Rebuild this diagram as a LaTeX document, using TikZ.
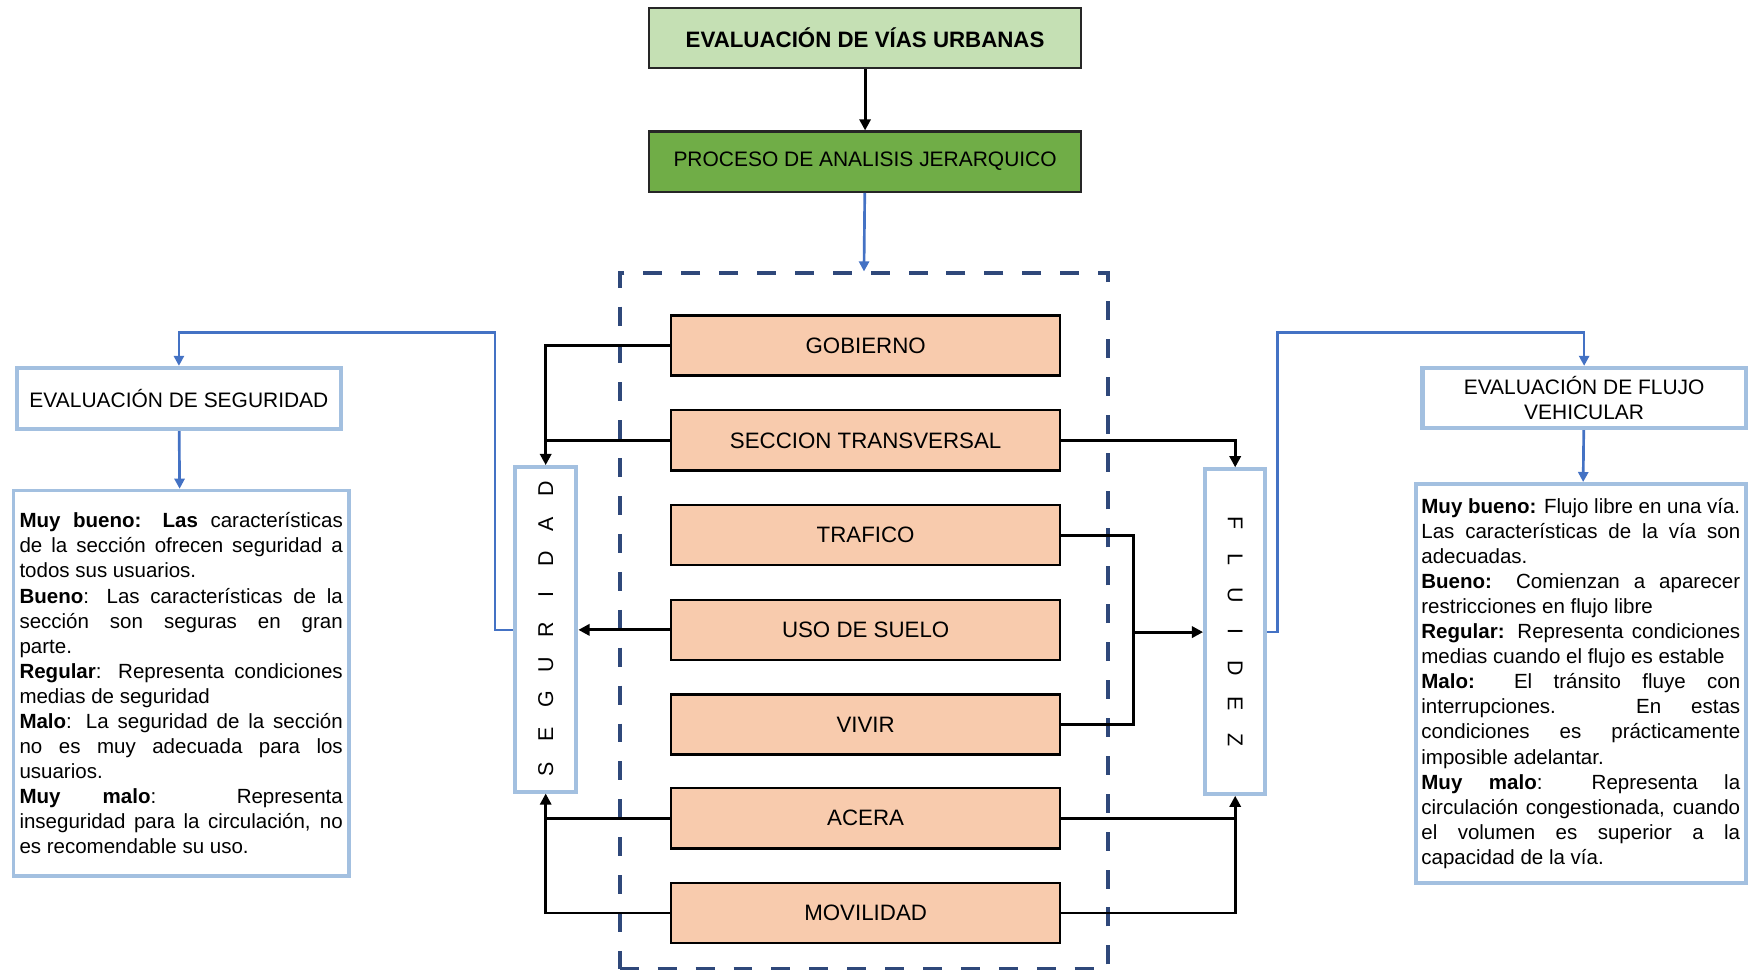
\documentclass[tikz,border=0pt]{standalone}
\usepackage{fontspec}
\usepackage{graphicx}
\setmainfont{Liberation Sans}
\usetikzlibrary{arrows.meta}

\definecolor{verdeclaro}{RGB}{197,224,180}
\definecolor{verde}{RGB}{112,173,71}
\definecolor{salmon}{RGB}{248,203,173}
\definecolor{bordeazul}{RGB}{163,192,224}
\definecolor{azul}{RGB}{68,114,196}
\definecolor{marino}{RGB}{47,72,122}

\setlength{\parindent}{0pt}
\tolerance=10000
\hyphenpenalty=10000

% letras separadas a paso fijo
\newcommand{\espaciado}[2]{\foreach \letra in {#2}{\makebox[#1]{\letra}}}

\begin{document}
\begin{tikzpicture}[x=0.5pt,y=-0.5pt,
	verdebox/.style={draw=black!85,line width=1pt,minimum width=194pt,minimum height=27pt,inner sep=0pt},
	factor/.style={draw=black,line width=1.1pt,fill=salmon,minimum width=174.5pt,minimum height=27pt,inner sep=0pt,font=\fontsize{10}{12}\selectfont},
	criterio/.style={draw=bordeazul,line width=1.8pt,fill=white,inner sep=0pt,minimum height=145.5pt,font=\fontsize{9.6}{11}\selectfont},
	evalbox/.style={draw=bordeazul,line width=1.8pt,fill=white,inner sep=0pt,align=center,font=\fontsize{9.4}{11.5}\selectfont},
	info/.style={draw=bordeazul,line width=1.6pt,fill=white,inner ysep=0pt,align=justify,font=\fontsize{9.2}{11.25}\selectfont},
	linea/.style={black,line width=1.3pt},
	flecha/.style={black,line width=1.3pt,-{Triangle[length=5pt,width=5pt]}},
	azulf/.style={azul,line width=1.2pt,-{Triangle[length=4.5pt,width=4.5pt]}}]
	\useasboundingbox (0,0) rectangle (1568,872);

	\node[verdebox,fill=verdeclaro,font=\fontsize{10}{12}\selectfont\bfseries] (vias) at (776,34) {EVALUACIÓN DE VÍAS URBANAS};
	\node[verdebox,fill=verde,font=\fontsize{9.4}{11}\selectfont] (ahp) at (776,145) {PROCESO DE ANALISIS JERARQUICO};
	\node[draw=marino,line width=1.5pt,dash pattern=on 8.5pt off 8.5pt,minimum width=219pt,minimum height=312pt] (grupo) at (775,557) {};

	\node[factor] (gob) at (776.5,310) {GOBIERNO};
	\node[factor] (sec) at (776.5,395) {SECCION TRANSVERSAL};
	\node[factor] (tra) at (776.5,480) {TRAFICO};
	\node[factor] (uso) at (776.5,565) {USO DE SUELO};
	\node[factor] (viv) at (776.5,650) {VIVIR};
	\node[factor] (ace) at (776.5,734) {ACERA};
	\node[factor] (mov) at (776.5,819) {MOVILIDAD};

	\node[criterio,minimum width=27.5pt] (seg) at (489.5,564.5) {\rotatebox{90}{\espaciado{15.75pt}{S,E,G,U,R,I,D,A,D}}};
	\node[criterio,minimum width=27pt] (flu) at (1108,566.5) {\rotatebox{-90}{\espaciado{16.25pt}{F,L,U,I,D,E,Z}}};

	\node[evalbox,minimum width=145.5pt,minimum height=27.5pt] (evseg) at (160.5,357.5) {EVALUACIÓN DE SEGURIDAD};
	\node[evalbox,minimum width=145pt,minimum height=27pt] (evflu) at (1421,357) {EVALUACIÓN DE FLUJO\\VEHICULAR};

	\node[info,text width=145pt,inner xsep=2.75pt,minimum height=173pt] (infoseg) at (162.5,613) {%
		\textbf{Muy bueno: Las} características\linebreak de la sección ofrecen seguridad a\linebreak todos sus usuarios.\par
		\textbf{Bueno}: Las características de la\linebreak sección son seguras en gran\linebreak parte.\par
		\textbf{Regular}: Representa condiciones\linebreak medias de seguridad\par
		\textbf{Malo}: La seguridad de la sección\linebreak no es muy adecuada para los\linebreak usuarios.\par
		\textbf{Muy malo}: Representa\linebreak inseguridad para la circulación, no\linebreak es recomendable su uso.};
	\node[info,text width=143pt,inner xsep=2.5pt,minimum height=179pt] (infoflu) at (1418,613) {%
		\textbf{Muy bueno:} Flujo libre en una vía.\linebreak Las características de la vía son\linebreak adecuadas.\par
		\textbf{Bueno:} Comienzan a aparecer\linebreak restricciones en flujo libre\par
		\textbf{Regular:} Representa condiciones\linebreak medias cuando el flujo es estable\par
		\textbf{Malo:} El tránsito fluye con\linebreak interrupciones. En estas\linebreak condiciones es prácticamente\linebreak imposible adelantar.\par
		\textbf{Muy malo}: Representa la\linebreak circulación congestionada, cuando\linebreak el volumen es superior a la\linebreak capacidad de la vía.};

	\coordinate (sb) at (444,298);
	\coordinate (fb) at (1146,298);
	\coordinate (jr) at (1017,567);

	% conexiones hacia los criterios
	\draw[flecha] (vias) -- (ahp);
	\draw[azulf] (ahp) -- (grupo.north);
	\draw[flecha] (gob.west) -| (seg.north);
	\draw[linea] (sec.west) -- (sec.west -| seg.north);
	\draw[flecha] (uso.west) -- (uso.west -| seg.east);
	\draw[flecha] (ace.west) -| (seg.south);
	\draw[linea] (mov.west) -| (seg.south |- ace.west);
	\draw[flecha] (sec.east) -| (flu.north);
	\draw[linea] (tra.east) -| (jr);
	\draw[linea] (viv.east) -| (jr);
	\draw[flecha] (jr) -- (jr -| flu.west);
	\draw[flecha] (ace.east) -| (flu.south);
	\draw[linea] (mov.east) -| (flu.south |- ace.east);

	% evaluaciones
	\draw[azulf] (seg.west |- uso.west) -| (sb) -| (evseg.north);
	\draw[azulf] (evseg) -- (infoseg);
	\draw[azulf] (flu.east |- jr) -| (fb) -| (evflu.north);
	\draw[azulf] (evflu) -- (infoflu);
\end{tikzpicture}
\end{document}
